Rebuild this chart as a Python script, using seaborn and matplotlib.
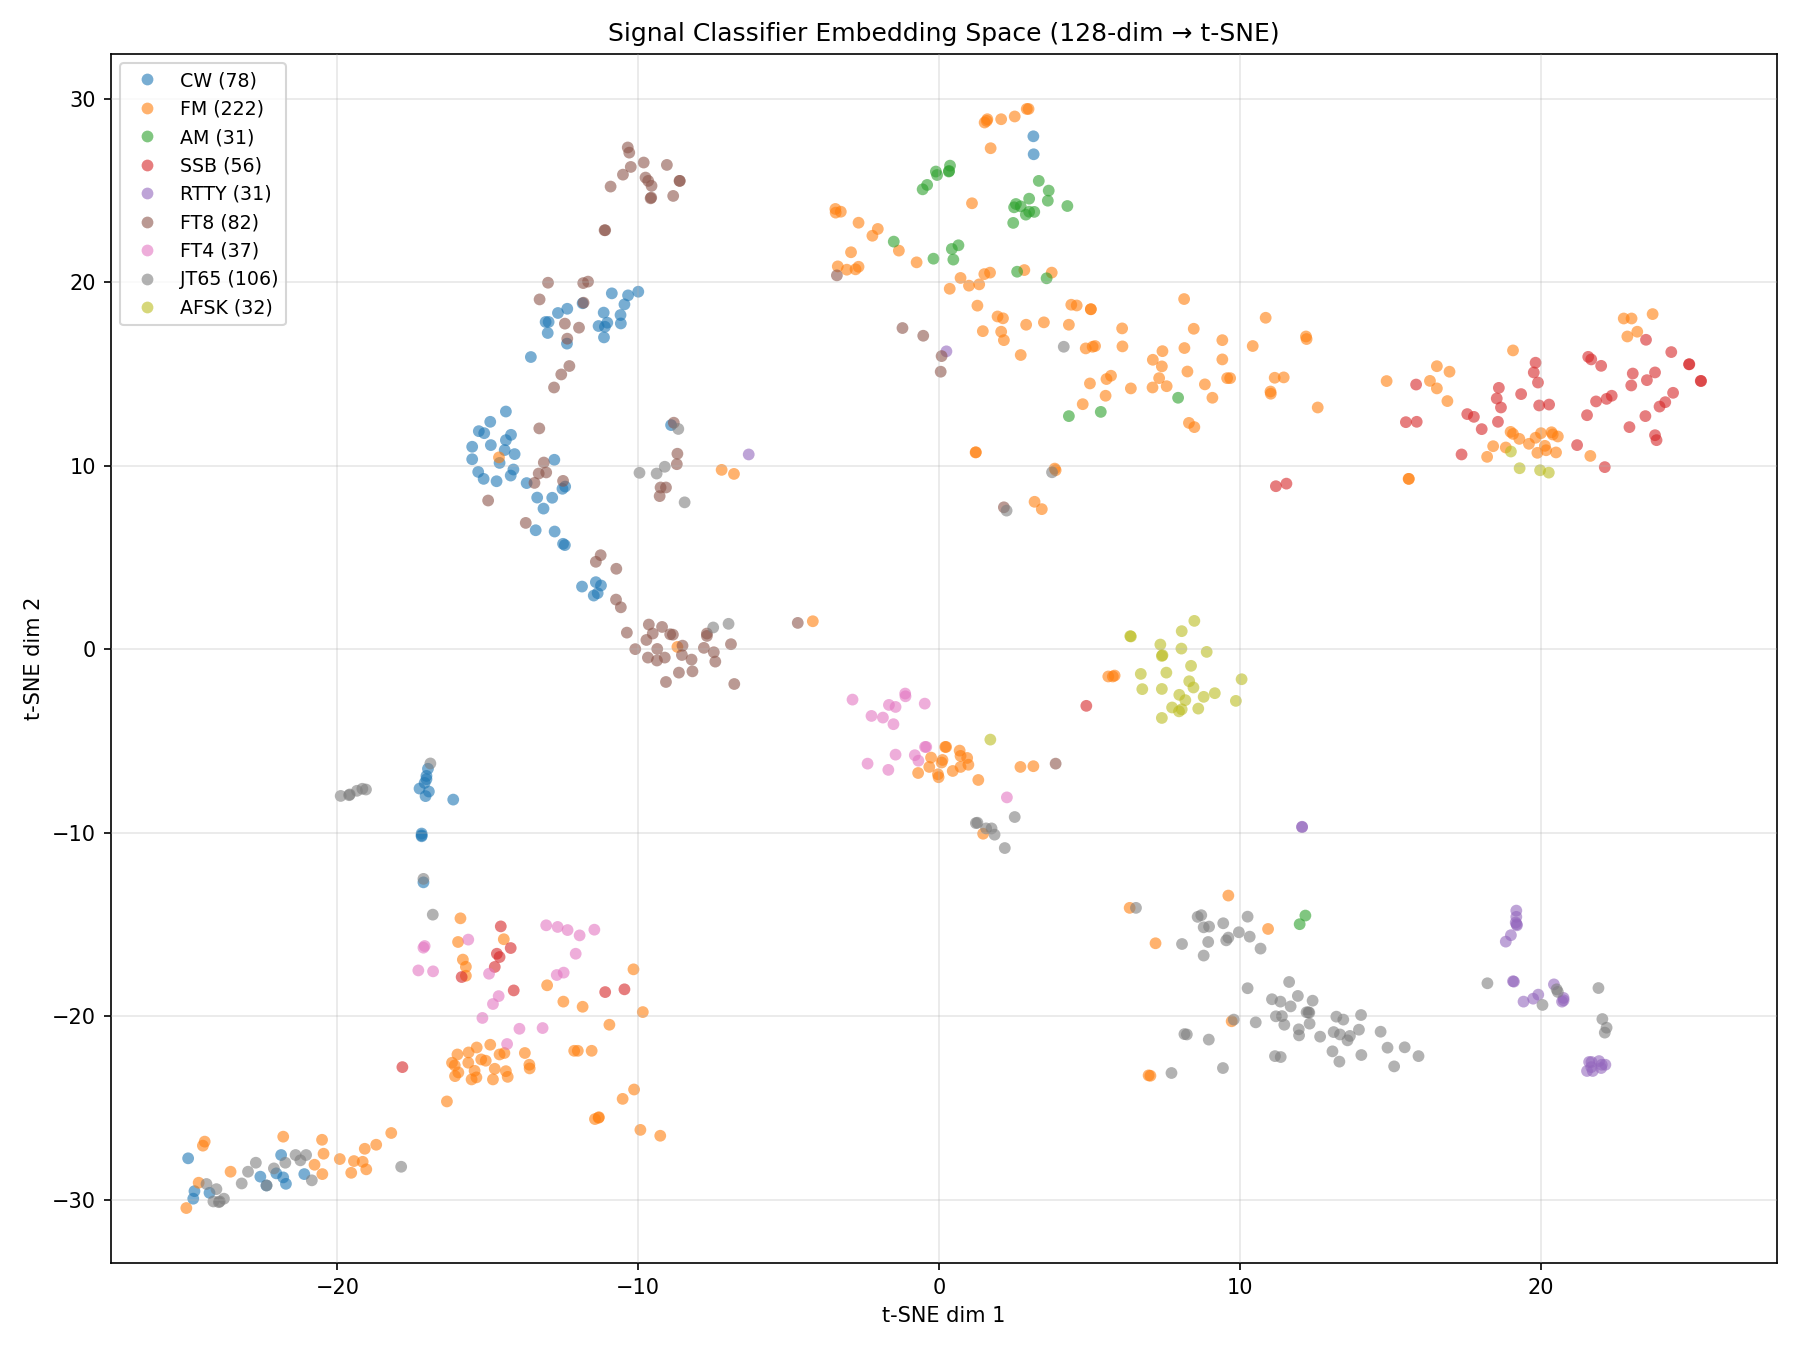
import matplotlib
matplotlib.use("Agg")
import matplotlib.pyplot as plt
import pandas as pd
import seaborn as sns

# Two-dimensional t-SNE coordinates of the classifier embeddings, one list per mode.
cw = [(-10.88,19.39),(-10.34,19.28),(-10.0,19.48),(-10.46,18.79),(-11.85,18.85),(-12.36,18.55),(-12.67,18.32),
      (-11.15,18.34),(-10.59,18.21),(-13.08,17.83),(-12.98,17.83),(-11.03,17.79),(-10.58,17.75),(-11.32,17.61),
      (-11.11,17.57),(-13.01,17.23),(-11.14,16.99),(-12.37,16.65),(-13.57,15.92),(-14.4,12.95),(-14.92,12.39),
      (-15.3,11.88),(-15.12,11.77),(-14.23,11.68),(-14.4,11.39),(-15.52,11.03),(-14.9,11.12),(-14.44,10.85),
      (-14.11,10.63),(-15.52,10.35),(-14.61,10.15),(-12.79,10.32),(-14.15,9.79),(-14.24,9.46),(-15.32,9.66),
      (-15.14,9.28),(-14.71,9.15),(-13.71,9.05),(-12.52,8.74),(-12.43,8.86),(-13.36,8.26),(-12.86,8.25),
      (-13.15,7.66),(-8.91,12.21),(-13.41,6.48),(-12.78,6.41),(-12.5,5.74),(-12.44,5.67),(-11.41,3.65),
      (-11.24,3.47),(-11.87,3.41),(-11.35,3.05),(-11.48,2.92),(3.13,27.95),(3.14,26.97),(-16.99,-6.52),
      (-17.04,-6.91),(-17.04,-7.09),(-17.1,-7.29),(-17.27,-7.6),(-16.96,-7.76),(-17.07,-8.01),(-16.15,-8.2),
      (-17.2,-10.05),(-17.2,-10.2),(-17.2,-10.15),(-17.14,-12.71),(-24.96,-27.75),(-24.75,-29.54),(-24.79,-29.95),
      (-24.25,-29.63),(-21.87,-27.57),(-22.56,-28.75),(-22.03,-28.57),(-21.8,-28.79),(-21.71,-29.14),
      (-22.36,-29.23),(-21.1,-28.61)]

fm = [(-24.41,-26.84),(-24.47,-27.06),(-23.55,-28.48),(-24.61,-29.08),(-25.02,-30.46),(-21.8,-26.57),(-20.51,-26.74),
      (-20.46,-27.5),(-20.76,-28.1),(-20.5,-28.61),(-19.92,-27.79),(-19.45,-27.9),(-19.16,-27.94),(-19.54,-28.54),
      (-19.04,-28.35),(-19.09,-27.23),(-18.71,-27.01),(-18.21,-26.37),(-15.91,-14.67),(-14.47,-15.81),(-15.99,-15.96),
      (-15.83,-16.92),(-15.73,-17.31),(-15.73,-17.8),(-10.16,-17.45),(-13.03,-18.32),(-12.49,-19.21),(-11.85,-19.49),
      (-9.85,-19.78),(-10.96,-20.47),(-14.92,-21.56),(-15.37,-21.71),(-15.64,-21.98),(-16.01,-22.09),(-14.45,-22.01),
      (-14.61,-22.09),(-13.77,-22.01),(-12.13,-21.89),(-12.01,-21.89),(-11.55,-21.89),(-16.19,-22.54),(-15.65,-22.54),
      (-15.22,-22.36),(-15.07,-22.43),(-16.1,-22.69),(-13.62,-22.65),(-13.61,-22.85),(-15.98,-23.07),(-15.44,-22.98),
      (-14.77,-22.87),(-14.4,-23.0),(-16.09,-23.27),(-15.38,-23.34),(-15.54,-23.45),(-14.83,-23.45),(-14.34,-23.31),
      (-16.36,-24.65),(-10.14,-24.0),(-10.52,-24.51),(-11.44,-25.61),(-11.32,-25.54),(-11.31,-25.51),(-9.93,-26.2),
      (-9.27,-26.52),(-4.2,1.52),(0.2,-5.33),(0.23,-5.33),(0.68,-5.53),(0.71,-5.82),(0.93,-5.93),(-0.27,-5.91),
      (0.11,-6.04),(0.08,-6.18),(0.97,-6.3),(0.71,-6.42),(-0.33,-6.42),(0.45,-6.64),(-0.7,-6.75),(-0.04,-6.82),
      (-0.02,-6.98),(1.3,-7.13),(2.7,-6.42),(3.13,-6.38),(5.62,-1.49),(5.77,-1.49),(5.83,-1.44),(1.46,-10.06),
      (10.85,18.06),(10.42,16.52),(12.19,17.04),(12.21,16.9),(11.15,14.79),(11.45,14.81),(11.01,14.04),(11.02,13.92),
      (12.58,13.17),(14.87,14.61),(16.54,15.42),(16.96,15.12),(16.31,14.62),(16.54,14.21),(16.89,13.52),(19.07,16.28),
      (22.75,18.02),(23.01,18.02),(23.71,18.26),(23.2,17.3),(22.87,17.04),(18.99,11.84),(19.07,11.73),(19.28,11.46),
      (18.41,11.06),(18.83,10.99),(18.21,10.48),(19.6,11.19),(19.82,11.52),(20.0,11.77),(20.35,11.82),(20.39,11.7),
      (20.56,11.59),(20.13,11.08),(20.17,10.84),(19.88,10.7),(20.5,10.72),(21.64,10.53),(15.61,9.28),(15.6,9.28),
      (2.97,29.44),(2.91,29.44),(2.51,29.03),(2.06,28.88),(1.6,28.88),(1.58,28.79),(1.51,28.7),(1.71,27.3),(1.09,24.3),
      (-3.45,23.99),(-3.44,23.79),(-3.27,23.84),(-2.68,23.24),(-2.04,22.9),(-2.22,22.53),(-1.34,21.72),(-2.93,21.63),
      (-0.75,21.08),(-3.37,20.86),(-3.07,20.68),(-2.78,20.7),(-2.68,20.84),(1.69,20.52),(1.5,20.44),(2.83,20.66),
      (3.74,20.52),(0.71,20.23),(0.99,19.81),(1.33,19.88),(0.35,19.64),(1.27,18.72),(1.94,18.13),(2.12,18.03),
      (4.39,18.77),(4.57,18.73),(5.04,18.53),(5.04,18.52),(8.14,19.08),(2.89,17.68),(3.48,17.81),(4.31,17.68),
      (6.08,17.48),(8.46,17.46),(1.45,17.33),(2.06,17.3),(2.15,16.84),(9.41,16.84),(6.09,16.5),(4.87,16.39),(5.1,16.48),
      (5.18,16.52),(8.15,16.41),(7.42,16.24),(2.71,16.03),(7.1,15.77),(9.41,15.79),(7.4,15.41),(9.67,14.77),
      (5.71,14.9),(5.56,14.72),(8.25,15.13),(7.31,14.77),(9.57,14.77),(5.01,14.48),(7.09,14.26),(7.56,14.33),
      (6.37,14.21),(8.83,14.43),(5.53,13.81),(9.08,13.7),(4.77,13.35),(8.3,12.33),(8.48,12.1),(1.21,10.72),(1.22,10.73),
      (3.84,9.84),(3.87,9.75),(3.17,8.03),(3.41,7.63),(9.61,-13.43),(6.33,-14.1),(10.93,-15.25),(7.19,-16.03),
      (9.72,-20.28),(6.96,-23.23),(7.02,-23.25),(-14.63,10.45),(-7.23,9.77),(-6.82,9.55),(-8.7,0.12)]

am = [(0.36,26.35),(-0.11,26.03),(-0.07,25.84),(0.32,26.03),(0.33,26.06),(-0.4,25.3),(-0.55,25.06),(3.31,25.52),
      (3.64,24.99),(3.61,24.44),(2.99,24.55),(2.55,24.26),(2.49,24.08),(2.71,24.13),(4.26,24.15),(3.16,23.83),
      (2.99,23.84),(2.88,23.68),(2.46,23.23),(-1.51,22.21),(0.64,22.01),(0.42,21.81),(-0.19,21.28),(0.47,21.23),
      (2.59,20.57),(3.57,20.21),(7.94,13.7),(4.31,12.7),(5.37,12.93),(12.17,-14.52),(11.98,-14.99)]

ssb = [(23.49,16.86),(24.33,16.19),(24.92,15.52),(24.93,15.53),(25.32,14.61),(25.31,14.62),(21.57,15.93),(21.67,15.79),
       (22.0,15.44),(19.82,15.61),(19.76,15.08),(19.9,14.53),(23.05,15.02),(23.79,15.08),(23.52,14.66),(23.0,14.37),
       (15.85,14.42),(18.6,14.24),(18.53,13.66),(19.34,13.9),(24.39,13.97),(22.35,13.81),(22.18,13.64),(21.83,13.5),
       (24.13,13.46),(23.94,13.22),(18.67,13.17),(19.94,13.28),(20.27,13.33),(17.55,12.81),(17.77,12.66),(21.53,12.75),
       (15.51,12.37),(15.87,12.39),(18.57,12.39),(18.03,11.99),(23.47,12.7),(22.94,12.1),(23.79,11.66),(23.84,11.39),
       (21.2,11.12),(17.36,10.61),(22.12,9.92),(11.19,8.88),(11.54,9.02),(-14.57,-15.11),(-14.24,-16.29),(-14.7,-16.6),
       (-14.61,-16.78),(-14.77,-17.32),(-15.87,-17.87),(-14.14,-18.6),(-11.1,-18.69),(-10.46,-18.54),(-17.84,-22.78),
       (4.89,-3.09)]

rtty = [(12.06,-9.68),(12.06,-9.7),(19.18,-14.25),(19.18,-14.59),(19.16,-14.9),(19.2,-15.05),(19.19,-14.99),(19.0,-15.59),
        (18.83,-15.94),(19.07,-18.1),(19.1,-18.12),(20.43,-18.27),(19.91,-18.83),(19.74,-19.05),(19.42,-19.21),
        (20.75,-19.01),(20.75,-19.14),(20.7,-19.21),(21.68,-22.5),(21.93,-22.45),(22.14,-22.65),(22.02,-22.65),
        (21.67,-22.78),(22.0,-22.83),(21.53,-22.99),(21.72,-22.99),(21.6,-22.5),(0.24,16.23),(-6.33,10.61)]

ft8 = [(-10.35,27.34),(-10.3,27.06),(-9.82,26.52),(-9.05,26.39),(-10.25,26.28),(-10.51,25.86),(-9.76,25.7),(-9.67,25.52),
       (-9.56,25.25),(-10.92,25.21),(-8.63,25.52),(-8.62,25.52),(-9.59,24.57),(-9.57,24.61),(-8.84,24.7),(-11.12,22.83),
       (-11.1,22.83),(-13.0,19.97),(-11.83,19.95),(-11.67,20.03),(-13.28,19.06),(-11.82,18.88),(-12.44,17.74),
       (-11.97,17.52),(-12.36,16.92),(-12.29,15.43),(-12.56,14.97),(-12.8,14.26),(-13.29,12.03),(-13.14,10.17),
       (-13.31,9.57),(-13.06,9.63),(-12.5,9.17),(-13.45,9.06),(-14.99,8.1),(-13.74,6.88),(-8.82,12.34),(-8.7,10.65),
       (-8.72,10.08),(-9.08,8.81),(-9.26,8.81),(-9.29,8.34),(-11.25,5.12),(-11.41,4.76),(-10.73,4.38),(-10.74,2.7),
       (-10.58,2.28),(-10.38,0.9),(-9.65,1.34),(-9.21,1.21),(-9.52,0.85),(-8.94,0.81),(-8.85,0.79),(-9.73,0.5),
       (-7.72,0.85),(-7.72,0.72),(-10.1,0.0),(-9.37,0.01),(-8.53,0.19),(-7.82,0.07),(-6.92,0.27),(-7.49,-0.17),
       (-8.55,-0.32),(-9.68,-0.46),(-9.12,-0.46),(-9.38,-0.62),(-8.23,-0.57),(-7.44,-0.68),(-8.65,-1.28),(-8.2,-1.21),
       (-9.08,-1.79),(-6.81,-1.9),(-4.7,1.43),(-3.4,20.37),(-1.22,17.5),(-0.53,17.08),(0.08,15.97),(0.05,15.12),
       (2.15,7.73),(3.87,-6.24)]

ft4 = [(-13.06,-15.05),(-12.68,-15.14),(-12.35,-15.31),(-11.95,-15.6),(-11.46,-15.29),(-15.65,-15.83),(-17.1,-16.18),
       (-17.14,-16.27),(-12.08,-16.6),(-17.31,-17.51),(-16.82,-17.56),(-14.96,-17.69),(-12.48,-17.63),(-12.71,-17.76),
       (-14.64,-18.91),(-14.83,-19.34),(-15.18,-20.1),(-13.95,-20.69),(-13.18,-20.65),(-14.36,-21.52),(-2.88,-2.75),
       (-1.67,-3.04),(-1.45,-3.15),(-1.13,-2.42),(-1.12,-2.57),(-0.48,-2.97),(-2.25,-3.64),(-1.87,-3.73),(-1.52,-4.09),
       (-0.47,-5.33),(-0.43,-5.33),(-1.45,-5.75),(-0.81,-5.78),(-0.69,-6.08),(-2.38,-6.24),(-1.69,-6.58),(2.25,-8.08)]

jt65 = [(-16.91,-6.23),(-19.89,-8.0),(-19.59,-7.92),(-19.61,-7.96),(-19.35,-7.72),(-19.17,-7.61),(-19.05,-7.65),
        (-17.14,-12.52),(-16.83,-14.47),(-24.35,-29.15),(-24.02,-29.43),(-24.12,-30.1),(-23.94,-30.14),(-23.91,-30.1),
        (-23.77,-29.95),(-23.18,-29.12),(-22.97,-28.48),(-22.71,-27.99),(-22.11,-28.3),(-21.73,-27.99),(-22.35,-29.23),
        (-21.39,-27.57),(-21.23,-27.86),(-21.04,-27.57),(-20.85,-28.95),(-17.88,-28.21),(1.22,-9.48),(1.27,-9.46),
        (1.56,-9.77),(1.74,-9.77),(1.84,-10.11),(2.51,-9.15),(2.18,-10.84),(6.54,-14.1),(8.71,-14.5),(8.59,-14.59),
        (9.44,-14.94),(10.25,-14.58),(8.97,-15.12),(8.79,-15.16),(9.96,-15.43),(10.32,-15.67),(9.61,-15.72),(9.54,-15.87),
        (8.94,-15.96),(8.07,-16.07),(10.68,-16.32),(8.79,-16.7),(11.63,-18.14),(10.25,-18.48),(11.92,-18.9),(11.06,-19.08),
        (11.34,-19.21),(12.41,-19.16),(11.68,-19.47),(12.27,-19.79),(12.21,-19.79),(12.3,-19.81),(11.19,-20.01),
        (11.39,-20.0),(12.31,-20.41),(11.47,-20.47),(13.2,-20.03),(13.43,-20.19),(14.02,-19.94),(9.79,-20.19),(10.52,-20.34),
        (11.95,-20.72),(11.96,-21.05),(13.11,-20.87),(13.32,-21.0),(13.95,-20.74),(14.67,-20.85),(12.66,-21.12),(13.65,-21.08),
        (13.57,-21.32),(8.15,-20.98),(8.23,-21.0),(8.96,-21.28),(14.9,-21.72),(15.47,-21.7),(13.07,-21.92),(15.93,-22.18),
        (11.16,-22.18),(11.35,-22.23),(14.03,-22.12),(13.3,-22.48),(15.12,-22.74),(9.43,-22.83),(7.72,-23.1),(18.22,-18.21),
        (21.91,-18.47),(20.52,-18.54),(20.56,-18.68),(20.05,-19.39),(22.04,-20.16),(22.18,-20.63),(22.12,-20.9),(4.14,16.48),
        (3.75,9.64),(2.24,7.55),(-8.67,12.0),(-9.12,9.94),(-9.39,9.57),(-9.96,9.61),(-8.46,8.0),(-7.51,1.18),(-7.0,1.38)]

afsk = [(8.48,1.54),(8.06,0.98),(6.35,0.71),(6.37,0.69),(7.35,0.25),(8.05,0.03),(8.89,-0.15),(7.42,-0.33),(7.4,-0.37),
        (8.37,-0.91),(6.7,-1.35),(7.55,-1.28),(10.05,-1.64),(8.31,-1.75),(6.75,-2.18),(7.4,-2.17),(8.45,-2.09),(7.98,-2.49),
        (9.16,-2.4),(8.79,-2.6),(8.18,-2.78),(9.86,-2.82),(7.74,-3.18),(8.61,-3.24),(8.06,-3.28),(7.97,-3.39),(7.4,-3.75),
        (1.7,-4.93),(19.0,10.77),(19.29,9.86),(19.97,9.75),(20.26,9.62)]

modes = ["CW", "FM", "AM", "SSB", "RTTY", "FT8", "FT4", "JT65", "AFSK"]
sample_counts = [78, 222, 31, 56, 31, 82, 37, 106, 32]
clusters = [cw, fm, am, ssb, rtty, ft8, ft4, jt65, afsk]

labels = [f"{m} ({n})" for m, n in zip(modes, sample_counts)]
frames = [
    pd.DataFrame(points, columns=["dim1", "dim2"]).assign(mode=label)
    for label, points in zip(labels, clusters)
]
df = pd.concat(frames, ignore_index=True)

fig, ax = plt.subplots(figsize=(12, 9), dpi=150)
sns.scatterplot(
    data=df, x="dim1", y="dim2", hue="mode", hue_order=labels,
    palette="tab10", s=32, alpha=0.6, linewidth=0, ax=ax,
)
ax.set_title("Signal Classifier Embedding Space (128-dim \u2192 t-SNE)")
ax.set_xlabel("t-SNE dim 1")
ax.set_ylabel("t-SNE dim 2")
ax.legend(loc="upper left", fontsize=9.1, labelspacing=0.5, handletextpad=0.75, title=None)
ax.grid(True, alpha=0.3)
ax.set_axisbelow(False)
fig.subplots_adjust(left=110.6 / 1800, right=1776.8 / 1800, top=1 - 54 / 1350, bottom=1 - 1263 / 1350)
fig.savefig("out.png", dpi=150)
